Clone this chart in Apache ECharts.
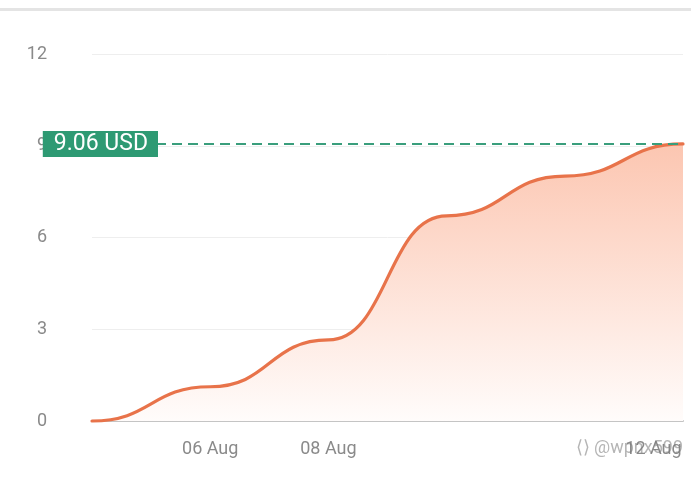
<!DOCTYPE html>
<html>
<head>
<meta charset="utf-8">
<script src="https://cdn.jsdelivr.net/npm/echarts@6/dist/echarts.min.js"></script>
<style>
html,body{margin:0;padding:0;background:#fff;}
#chart{width:691px;height:485px;}
</style>
</head>
<body>
<div id="chart"></div>
<script>
// Data points (x in days from 04 Aug)
const dates = ['04 Aug', '06 Aug', '08 Aug', '10 Aug', '12 Aug', '14 Aug'];
const xDays = [0, 2, 4, 6, 8, 10];
const values = [0.00, 1.12, 2.65, 6.71, 8.01, 9.06];
// X tick labels (positions in days, as on the reference)
const tickLabelPos = [2, 4, 9.5];
const tickLabelText = ['06 Aug', '08 Aug', '12 Aug'];
const yTicks = [0, 3, 6, 9, 12];
const currentValue = 9.06;
const currentLabel = '9.06 USD';

const points = xDays.map((d, i) => [d, values[i]]);

function renderCurve(params, api) {
  if (params.dataIndex !== points.length - 1) return null;
  const pts = points.map(p => api.coord(p));
  const base = api.coord([xDays[0], yTicks[0]])[1];
  const topY = api.coord([xDays[0], Math.max.apply(null, values)])[1];
  let d = 'M' + pts[0][0] + ' ' + pts[0][1];
  for (let i = 1; i < pts.length; i++) {
    const mx = (pts[i - 1][0] + pts[i][0]) / 2;
    d += ' C' + mx + ' ' + pts[i - 1][1] + ' ' + mx + ' ' + pts[i][1] + ' ' + pts[i][0] + ' ' + pts[i][1];
  }
  const last = pts[pts.length - 1];
  const area = d + ' L' + last[0] + ' ' + base + ' L' + pts[0][0] + ' ' + base + ' Z';
  return {
    type: 'group',
    children: [
      {type: 'path', shape: {pathData: area}, z2: 1,
       style: {fill: new echarts.graphic.LinearGradient(0, topY, 0, base, [
         {offset: 0, color: '#fcc6b1'},
         {offset: 1, color: '#fffcfb'}
       ], true), stroke: null}},
      {type: 'path', shape: {pathData: d}, z2: 2,
       style: {fill: null, stroke: '#e8734a', lineWidth: 3.2, lineCap: 'round', lineJoin: 'round'}}
    ]
  };
}

const chart = echarts.init(document.getElementById('chart'), null, {renderer: 'canvas'});
chart.setOption({
  animation: false,
  backgroundColor: '#ffffff',
  textStyle: {fontFamily: 'Roboto'},
  grid: {left: 92, right: 8, top: 54, bottom: 64, containLabel: false},
  graphic: [
    {type: 'rect', left: 0, top: 8, shape: {width: 691, height: 3}, style: {fill: '#e4e4e4'}, silent: true},
    {type: 'text', right: 8, top: 439, z: 100,
     style: {text: '⟨⟩ @wpnx599', fill: 'rgba(120,120,120,0.55)', font: '18px Roboto'}}
  ],
  xAxis: {
    type: 'value',
    min: xDays[0], max: xDays[xDays.length - 1], interval: 0.5,
    axisLine: {show: true, onZero: false, lineStyle: {color: '#c4c4c4', width: 2}},
    axisTick: {show: false},
    splitLine: {show: false},
    axisLabel: {
      showMinLabel: true, showMaxLabel: true,
      formatter: (val) => {
        const k = tickLabelPos.findIndex(p => Math.abs(p - val) < 1e-6);
        return k >= 0 ? tickLabelText[k] : '';
      },
      color: '#8a8a8a', fontSize: 18, margin: 19, fontFamily: 'Roboto'
    }
  },
  yAxis: {
    type: 'value',
    min: yTicks[0], max: yTicks[yTicks.length - 1], interval: 3,
    axisLine: {show: false},
    axisTick: {show: false},
    splitLine: {lineStyle: {color: '#eeeeee', width: 1}},
    axisLabel: {color: '#8a8a8a', fontSize: 18, margin: 45, padding: [4, 0, 0, 0], fontFamily: 'Roboto'}
  },
  series: [
    {
      type: 'custom',
      data: points,
      renderItem: renderCurve,
      clip: false,
      z: 2
    },
    {
      type: 'line',
      data: points,
      symbol: 'none',
      lineStyle: {opacity: 0},
      z: 3,
      markLine: {
        silent: true,
        symbol: 'none',
        lineStyle: {color: '#3a9e7c', type: [10, 6], width: 2},
        label: {
          show: true,
          position: 'start',
          distance: 0,
          offset: [66, 0],
          formatter: () => currentLabel,
          color: '#ffffff',
          backgroundColor: '#2e9a73',
          fontSize: 23,
          lineHeight: 23,
          fontFamily: 'Roboto',
          padding: [2, 10, 1, 11]
        },
        data: [{yAxis: currentValue}]
      }
    }
  ]
});
</script>
</body>
</html>
